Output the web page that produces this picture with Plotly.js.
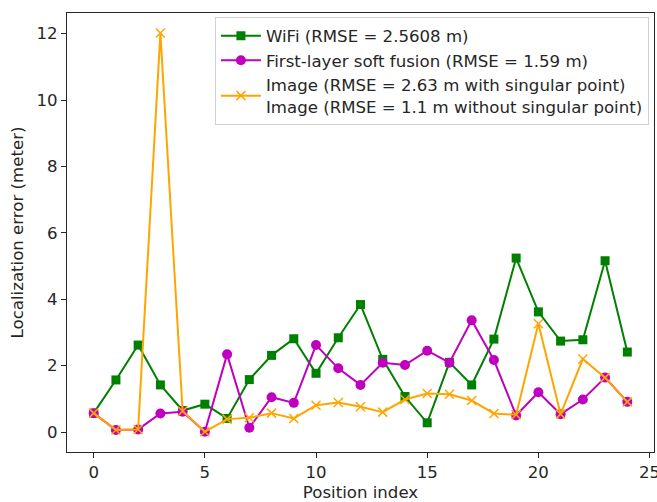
<!DOCTYPE html>
<html>
<head>
<meta charset="utf-8">
<script src="https://cdn.plot.ly/plotly-3.0.1.min.js"></script>
<style>html,body{margin:0;padding:0;background:#fff;}#chart{width:657px;height:502px;}</style>
</head>
<body>
<div id="chart"></div>
<script>
const positionIndex = [0,1,2,3,4,5,6,7,8,9,10,11,12,13,14,15,16,17,18,19,20,21,22,23,24];
const wifiError = [0.57,1.57,2.62,1.42,0.65,0.84,0.41,1.58,2.31,2.81,1.77,2.84,3.84,2.19,1.07,0.28,2.10,1.42,2.80,5.24,3.62,2.74,2.78,5.16,2.41];
const fusionError = [0.57,0.06,0.08,0.56,0.61,0.01,2.34,0.13,1.05,0.88,2.62,1.92,1.42,2.09,2.02,2.45,2.09,3.37,2.17,0.50,1.20,0.54,0.98,1.64,0.91];
const imageError = [0.57,0.06,0.08,12.02,0.63,0.01,0.39,0.43,0.57,0.41,0.81,0.89,0.76,0.60,0.98,1.16,1.14,0.95,0.56,0.52,3.26,0.54,2.20,1.64,0.91];
const seriesNames = [
  'WiFi (RMSE = 2.5608 m)',
  'First-layer soft fusion (RMSE = 1.59 m)',
  'Image (RMSE = 2.63 m with singular point)<br>Image (RMSE = 1.1 m without singular point)'
];
const xTicks = [0,5,10,15,20,25];
const yTicks = [0,2,4,6,8,10,12];

const font = 'DejaVu Sans, sans-serif';
const fs = 16.6;
const traces = [
  {x: positionIndex, y: wifiError, name: seriesNames[0], mode: 'lines+markers',
   line: {color: '#008000', width: 2}, marker: {symbol: 'square', size: 9, color: '#008000'}},
  {x: positionIndex, y: fusionError, name: seriesNames[1], mode: 'lines+markers',
   line: {color: '#bf00bf', width: 2}, marker: {symbol: 'circle', size: 10, color: '#bf00bf'}},
  {x: positionIndex, y: imageError, name: seriesNames[2], mode: 'lines+markers',
   line: {color: '#ffa500', width: 2}, marker: {symbol: 'x-thin', size: 9, line: {color: '#ffa500', width: 1.5}, color: '#ffa500'}}
];
const layout = {
  width: 657, height: 502,
  margin: {l: 67, r: 3, t: 13, b: 50},
  paper_bgcolor: '#fff', plot_bgcolor: '#fff',
  font: {family: font, size: fs, color: '#262626'},
  showlegend: true,
  legend: {x: 0.252, y: 0.99, xanchor: 'left', yanchor: 'top',
    bgcolor: 'rgba(255,255,255,0.8)', bordercolor: '#d0d0d0', borderwidth: 1,
    font: {family: font, size: fs, color: '#262626'}, tracegroupgap: 0, itemwidth: 40},
  xaxis: {range: [-1.2, 25.2], tickvals: xTicks, ticktext: xTicks.map(String),
    showgrid: false, zeroline: false, showline: true, linecolor: '#262626', linewidth: 1, mirror: true,
    ticks: 'outside', ticklen: 5, tickcolor: '#262626', ticklabeloverflow: 'allow',
    title: {text: 'Position index', font: {family: font, size: fs, color: '#262626'}, standoff: 6}},
  yaxis: {range: [-0.6, 12.62], tickvals: yTicks, ticktext: yTicks.map(String),
    showgrid: false, zeroline: false, showline: true, linecolor: '#262626', linewidth: 1, mirror: true,
    ticks: 'outside', ticklen: 5, tickcolor: '#262626',
    title: {text: 'Localization error (meter)', font: {family: font, size: fs, color: '#262626'}, standoff: 8}}
};
Plotly.newPlot('chart', traces, layout, {displayModeBar: false, staticPlot: true});
</script>
</body>
</html>
